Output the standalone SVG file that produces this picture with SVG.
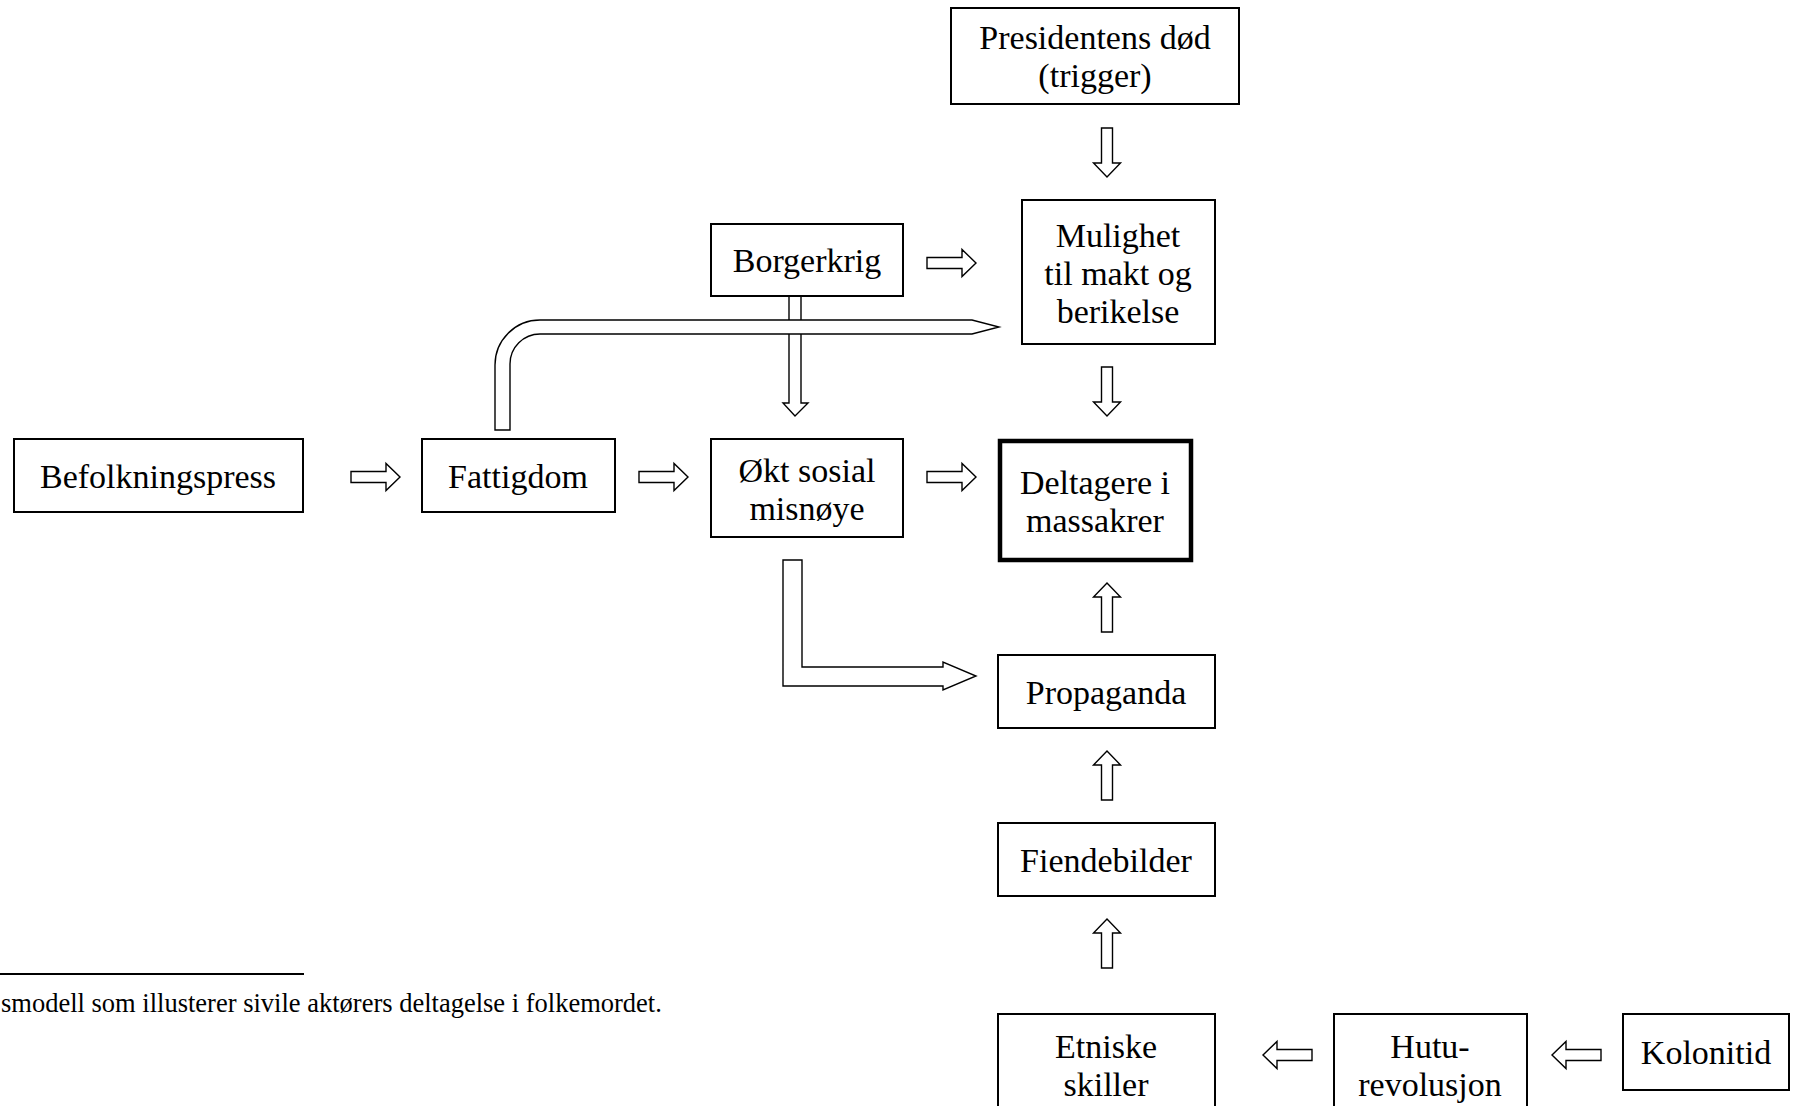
<svg xmlns="http://www.w3.org/2000/svg" width="1793" height="1106" viewBox="0 0 1793 1106">
<style>
.box{fill:#fff;stroke:#000;stroke-width:2}
.thick{fill:#fff;stroke:#000;stroke-width:4.5}
.t{font-family:"Liberation Serif","Times New Roman",serif;font-size:34px;fill:#000;text-anchor:middle}
.fn{font-family:"Liberation Serif","Times New Roman",serif;font-size:26.5px;fill:#000}
.arr{fill:#fff;stroke:#000;stroke-width:1.4;stroke-linejoin:miter}
</style>
<defs>
<path id="a" d="M0,-5.5 H35 V-13.5 L49,0 L35,13.5 V5.5 H0 Z"/>
</defs>
<rect x="0" y="0" width="1793" height="1106" fill="#fff"/>
<g id="connectors" class="arr">
<path d="M789,296 V403 H783 L795,416 L808,403 H801 V296 Z"/>
<path d="M495,430 V365 A45,45 0 0 1 540,320 H972 L999,327 L972,334 H540 A30,30 0 0 0 510,364 V430 Z"/>
<path d="M783,560 H802 V667 H943 V662 L976,676 L943,690 V686 H783 Z"/>
<use href="#a" transform="translate(1107,128) rotate(90)"/>
<use href="#a" transform="translate(927,263)"/>
<use href="#a" transform="translate(1107,367) rotate(90)"/>
<use href="#a" transform="translate(351,477)"/>
<use href="#a" transform="translate(639,477)"/>
<use href="#a" transform="translate(927,477)"/>
<use href="#a" transform="translate(1107,632) rotate(-90)"/>
<use href="#a" transform="translate(1107,800) rotate(-90)"/>
<use href="#a" transform="translate(1107,968) rotate(-90)"/>
<use href="#a" transform="translate(1312,1055) rotate(180)"/>
<use href="#a" transform="translate(1601,1055) rotate(180)"/>
</g>
<g id="presidentens">
<rect class="box" x="951" y="8" width="288" height="96"/>
<text class="t" x="1095" y="49">Presidentens død</text>
<text class="t" x="1095" y="87">(trigger)</text>
</g>
<g id="borgerkrig">
<rect class="box" x="711" y="224" width="192" height="72"/>
<text class="t" x="807" y="272">Borgerkrig</text>
</g>
<g id="mulighet">
<rect class="box" x="1022" y="200" width="193" height="144"/>
<text class="t" x="1118" y="247">Mulighet</text>
<text class="t" x="1118" y="285">til makt og</text>
<text class="t" x="1118" y="323">berikelse</text>
</g>
<g id="befolkningspress">
<rect class="box" x="14" y="439" width="289" height="73"/>
<text class="t" x="158" y="488">Befolkningspress</text>
</g>
<g id="fattigdom">
<rect class="box" x="422" y="439" width="193" height="73"/>
<text class="t" x="518" y="488">Fattigdom</text>
</g>
<g id="okt">
<rect class="box" x="711" y="439" width="192" height="98"/>
<text class="t" x="807" y="482">Økt sosial</text>
<text class="t" x="807" y="520">misnøye</text>
</g>
<g id="deltagere">
<rect class="thick" x="1000" y="441" width="191" height="119"/>
<text class="t" x="1095" y="494">Deltagere i</text>
<text class="t" x="1095" y="532">massakrer</text>
</g>
<g id="propaganda">
<rect class="box" x="998" y="655" width="217" height="73"/>
<text class="t" x="1106" y="704">Propaganda</text>
</g>
<g id="fiendebilder">
<rect class="box" x="998" y="823" width="217" height="73"/>
<text class="t" x="1106" y="872">Fiendebilder</text>
</g>
<g id="etniske">
<rect class="box" x="998" y="1014" width="217" height="110"/>
<text class="t" x="1106" y="1058">Etniske</text>
<text class="t" x="1106" y="1096">skiller</text>
</g>
<g id="hutu">
<rect class="box" x="1334" y="1014" width="193" height="110"/>
<text class="t" x="1430" y="1058">Hutu-</text>
<text class="t" x="1430" y="1096">revolusjon</text>
</g>
<g id="kolonitid">
<rect class="box" x="1623" y="1014" width="166" height="76"/>
<text class="t" x="1706" y="1064">Kolonitid</text>
</g>
<g id="footnote">
<line x1="0" y1="974" x2="304" y2="974" stroke="#000" stroke-width="2"/>
<text class="fn" x="1" y="1012">smodell som illusterer sivile aktørers deltagelse i folkemordet.</text>
</g>
</svg>
